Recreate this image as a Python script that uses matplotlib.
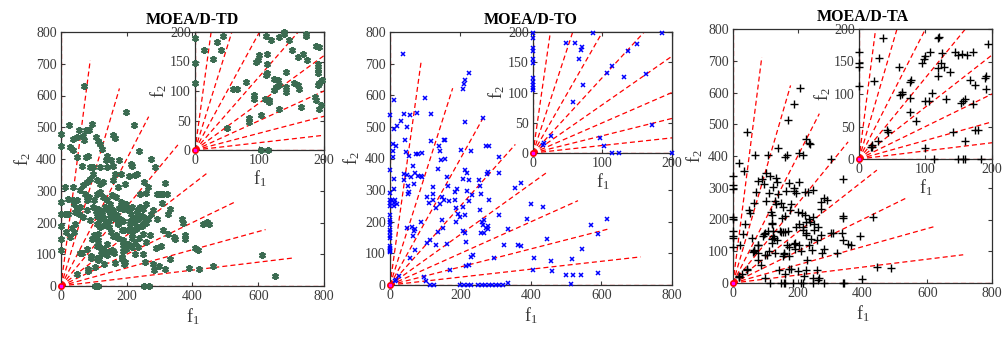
import matplotlib
matplotlib.use("Agg")
import matplotlib.pyplot as plt
import numpy as np

plt.rcParams['font.family'] = ['Liberation Serif', 'DejaVu Serif']
plt.rcParams['mathtext.fontset'] = 'custom'
plt.rcParams['mathtext.rm'] = 'Liberation Serif'
plt.rcParams['mathtext.it'] = 'Liberation Serif'

titles = ["MOEA/D-TD", "MOEA/D-TO", "MOEA/D-TA"]

# ---------------- MOEA/D-TD ----------------
td_pts = [
    (0,189),(0,148),(0,114),(14,169),(28,155),(34,183),(41,169),(44,194),(59,104),(65,104),(79,115),
    (83,54),(83,48),(92,93),(92,87),(97,152),(94,149),(100,161),(103,59),(103,0),(113,0),(110,194),
    (112,163),(112,146),(112,130),(110,127),(108,87),(115,85),(114,82),(118,186),(130,192),(138,200),
    (138,197),(128,118),(123,121),(126,107),(123,101),(131,110),(130,70),(141,132),(141,107),(141,99),
    (151,169),(146,186),(154,113),(159,110),(161,104),(159,158),(168,162),(164,73),(172,197),(172,194),
    (174,152),(187,176),(192,175),(190,146),(190,138),(190,130),(186,90),(187,85),(190,110),(192,113),
    (197,118),(192,70),(195,76),(49,37),
    (71,629),(197,547),(221,506),(0,478),(0,442),(24,508),(55,492),(75,490),(86,490),(93,509),(66,474),
    (70,461),(50,469),(35,463),(27,438),(107,469),(114,457),(120,446),(125,433),(157,476),(165,465),
    (236,426),(273,400),(287,375),(141,408),(136,396),(151,396),(159,379),(141,375),(118,375),(98,375),
    (89,375),(81,411),(76,406),(50,406),(64,378),(36,429),(176,396),(213,385),(216,378),(224,349),
    (208,345),(195,322),(230,354),(253,328),(264,312),(258,293),(240,291),(292,291),(301,291),(311,291),
    (321,291),(315,324),(308,261),(331,244),(326,228),(258,259),(250,244),(240,249),(230,228),(220,215),
    (212,228),(205,238),(199,257),(189,244),(275,228),(292,212),(265,212),(280,238),(367,212),(370,198),
    (377,160),(377,149),(348,149),(433,196),(443,202),(451,194),(408,121),(417,112),(463,62),(420,55),
    (390,58),(610,97),(651,33),(299,62),(283,49),(255,76),(316,55),(333,86),(305,125),(343,154),
    (326,165),(311,175),(252,0),(267,0),
    (0,265),(0,228),(12,312),(22,275),(12,228),(22,228),(43,233),(37,312),(50,270),(37,270),(58,301),
    (66,317),(80,328),(88,338),(98,354),(108,333),(118,322),(128,328),(73,291),(78,270),(86,280),
    (100,270),(108,291),(118,296),(128,280),(139,270),(154,286),(149,259),(164,354),(159,333),(174,312),
    (184,354),(168,280),(184,265),(58,249),(48,244),(40,259),(56,228),(68,217),(78,238),(98,249),
    (113,244),(124,233),(134,249),(144,238),(159,238),(88,207),
    (215,165),(205,133),(215,123),(235,123),(225,102),(260,139),(248,165),(281,70),(228,180),(210,190),
    (245,190),(238,150),(270,160),(290,120),(250,100),(225,140),(205,175),(215,150),
    (210,205),(225,200),(235,210),(245,220),(255,215),(235,185),(220,175),(250,195),(260,200),(230,240),
    (215,250),(110,220),(120,210),(130,215),(145,205),(160,215),(170,225),(180,210),(190,205),(105,235),
    (150,225),(175,245),
]

# ---------------- MOEA/D-TO ----------------
to_pts = [
    (0,199),(0,190),(0,173),(0,168),(0,155),(0,149),(0,124),(0,118),(0,112),(0,107),(0,104),(26,28),
    (14,14),(16,17),(47,181),(61,182),(70,176),(69,171),(66,156),(72,112),(57,84),(87,198),(96,24),
    (102,12),(114,0),(124,0),(106,133),(114,143),(131,125),(136,169),(149,180),(163,130),(171,46),(186,198),
    (38,732),(98,592),(115,542),(11,584),(0,537),(11,492),(21,502),(30,519),(41,540),(57,537),(77,544),
    (49,500),(9,445),(18,440),(9,424),(9,405),(43,458),(46,420),(55,409),(64,376),(74,414),(79,414),
    (91,416),(40,351),(49,348),(41,332),(60,342),(68,318),(79,346),(87,345),(91,342),(70,355),(52,314),
    (52,289),(53,294),(11,334),(11,302),(0,290),(5,270),(10,260),(15,270),(0,260),(20,255),(12,250),
    (0,270),(0,250),(0,220),(0,205),(0,365),
    (106,279),(110,260),(121,311),(123,289),(117,455),(122,270),(131,242),(141,256),(147,279),(136,368),
    (139,441),(143,424),(145,395),(153,458),(157,460),(161,342),(153,268),(147,205),(155,400),(164,313),
    (166,266),
    (202,426),(207,621),(211,634),(214,647),(224,671),(263,529),(230,424),(273,441),(213,515),(213,363),
    (219,354),(223,332),(207,334),(190,302),(185,295),(185,268),(213,221),(207,247),(200,216),(194,226),
    (187,245),(207,172),(213,163),(216,135),(219,296),(225,266),(234,285),(236,95),(230,89),(216,60),
    (225,63),(253,332),(255,313),(258,289),(256,237),(261,198),(264,189),(268,205),(258,163),(266,163),
    (273,179),(277,187),(279,176),(280,268),(275,350),(278,358),(280,441),(308,405),(309,353),(309,221),
    (334,176),(323,126),(294,84),(356,307),(372,321),(362,125),(372,123),(390,208),(400,256),(433,247),
    (444,145),(409,84),(406,47),(458,76),(460,43),(500,31),(520,31),(541,31),(590,37),(545,113),(515,81),
    (569,189),(590,161),(617,208),(513,3),
    (200,0),(210,0),(220,0),(230,0),(250,0),(260,0),(270,0),(280,0),(290,0),(300,0),(310,0),(320,0),(334,5),
]

# ---------------- MOEA/D-TA ----------------
ta_pts = [
    (0,164),(0,148),(0,141),(0,113),(36,186),(30,155),(23,120),(60,142),(77,119),(78,121),(64,100),
    (65,103),(62,98),(76,94),(77,72),(86,58),(44,41),(42,44),(19,19),(18,18),(20,21),(29,28),(100,17),
    (100,89),(105,89),(110,102),(113,0),(94,147),(97,154),(100,159),(107,165),(119,186),(120,188),
    (125,163),(123,148),(119,140),(128,141),(119,127),(131,93),(137,134),(144,165),(149,160),(155,162),
    (162,160),(171,164),(167,121),(154,86),(157,90),(159,93),(172,85),(174,114),(189,124),(191,127),
    (191,107),(194,177),(142,41),(160,28),(174,45),(179,44),(149,0),(156,0),(160,0),(184,0),
    (44,475),(67,403),(18,379),(33,354),(108,403),(103,347),(204,319),(188,298),(171,514),(188,564),
    (206,614),(139,426),(167,403),(162,398),(225,453),(235,442),(237,438),(204,410),(217,403),(303,391),
    (339,329),(0,337),(0,309),(0,295),(0,208),(0,203),(78,320),(89,327),(95,312),(114,337),(132,331),
    (136,319),(70,287),(64,253),(50,230),(54,219),(111,282),(124,303),(130,258),(134,250),(147,253),
    (155,240),(173,316),(188,291),(194,282),(221,287),(232,287),(246,293),(116,224),(103,258),(222,214),
    (212,219),(201,224),(281,269),(289,261),(272,256),(272,232),(248,208),(235,203),(237,193),(250,187),
    (263,177),(250,166),(226,193),(217,166),(227,156),(273,151),(258,135),(281,108),(276,93),(304,156),
    (310,158),(337,156),(341,135),(356,124),(366,119),(320,96),(339,206),(341,210),(392,147),(431,208),
    (444,51),(488,47),(400,14),(210,0),(215,0),(248,0),(281,0),(339,0),(342,0),(201,38),(219,23),
    (225,42),(248,15),(266,16),(258,40),(229,72),(262,8),
    (150,205),(160,210),(175,230),(180,250),(120,215),(140,280),(165,290),(205,185),(215,175),(225,150),
    (240,140),(205,120),(235,120),(210,100),(245,105),
]

# weight-vector reference directions (k/9, 1-k/9) scaled to 800
n_dirs = 9
ref_len = 800

main_boxes = [
    [61/1004, 1-286/339, 263/1004, 254/339],
    [390/1004, 1-285/339, 282/1004, 253/339],
    [733/1004, 1-283/339, 259/1004, 254/339],
]
inset_boxes = [
    [195/1004, 1-150/339, 129/1004, 118/339],
    [533/1004, 1-153/339, 139/1004, 121/339],
    [859/1004, 1-159/339, 133/1004, 130/339],
]

styles = [
    dict(marker=(6, 2, 0), color='#3b6b51', ms=5.0, mew=1.5),
    dict(marker='x', color='#0000ff', ms=3.5, mew=1.1),
    dict(marker='+', color='#000000', ms=5.5, mew=1.0),
]

data = [td_pts, to_pts, ta_pts]

fig = plt.figure(figsize=(10.04, 3.39), dpi=100)
tick_color = '#3a3a3a'


def draw(ax, pts, st, lim):
    k = np.arange(n_dirs + 1)
    for kk in k:
        ex = ref_len * kk / n_dirs
        ey = ref_len * (n_dirs - kk) / n_dirs
        ax.plot([0, ex], [0, ey], ls=(0, (4, 2.5)), color='#ff0000', lw=0.9, zorder=2)
    arr = np.array(pts, dtype=float)
    ax.plot(arr[:, 0], arr[:, 1], ls='none', marker=st['marker'], color=st['color'],
            ms=st['ms'], mew=st['mew'], zorder=3, clip_on=False)
    ax.plot([0], [0], 'o', color='#ff0000', ms=4, zorder=4, clip_on=False)
    ax.plot([0], [0], 's', color='#ff00ff', ms=2, zorder=5, clip_on=False)
    ax.set_xlim(0, lim)
    ax.set_ylim(0, lim)
    ax.tick_params(direction='in', top=True, right=True, length=3, width=0.8,
                   colors=tick_color, labelsize=10, pad=3)
    for s in ax.spines.values():
        s.set_color('#303030')
        s.set_linewidth(0.9)


for i in range(3):
    ax = fig.add_axes(main_boxes[i])
    draw(ax, data[i], styles[i], 800)
    ax.set_xticks([0, 200, 400, 600, 800])
    ax.set_yticks(range(0, 801, 100))
    ax.set_xlabel(r'$\mathrm{f}_1$', fontsize=13, color=tick_color, labelpad=2)
    ax.set_ylabel(r'$\mathrm{f}_2$', fontsize=13, color=tick_color, labelpad=2)
    ax.set_title(titles[i], fontsize=11.5, fontweight='bold', pad=6)
    ins = fig.add_axes(inset_boxes[i])
    ins.set_facecolor('white')
    draw(ins, [p for p in data[i] if p[0] <= 200 and p[1] <= 200], styles[i], 200)
    ins.set_xticks([0, 100, 200])
    ins.set_yticks([0, 50, 100, 150, 200])
    ins.set_xlabel(r'$\mathrm{f}_1$', fontsize=13, color=tick_color, labelpad=1)
    ins.set_ylabel(r'$\mathrm{f}_2$', fontsize=13, color=tick_color, labelpad=1)

fig.savefig('out.png', dpi=100)
